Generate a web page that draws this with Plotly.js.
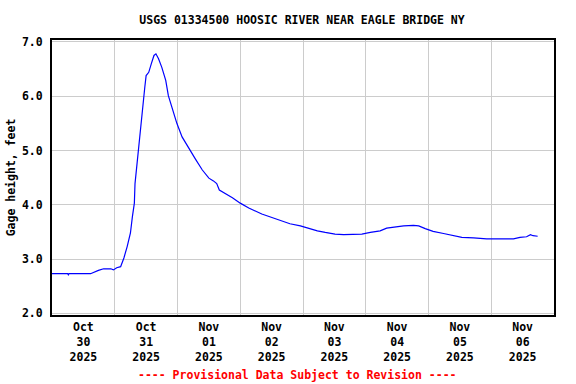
<!DOCTYPE html>
<html>
<head>
<meta charset="utf-8">
<script src="https://cdn.plot.ly/plotly-3.0.1.min.js"></script>
<style>html,body{margin:0;padding:0;background:#fff;}#chart{width:576px;height:384px;}</style>
</head>
<body>
<div id="chart"></div>
<script>
// Gage height readings (time, feet)
const times = [
  "2025-10-30 00:00","2025-10-30 06:00","2025-10-30 06:15","2025-10-30 06:30","2025-10-30 14:45",
  "2025-10-30 16:00","2025-10-30 17:45","2025-10-30 19:45","2025-10-30 22:30","2025-10-30 23:30",
  "2025-10-31 00:45","2025-10-31 02:15","2025-10-31 03:30","2025-10-31 04:45","2025-10-31 06:00",
  "2025-10-31 06:45","2025-10-31 07:30","2025-10-31 07:45","2025-10-31 08:15","2025-10-31 08:45",
  "2025-10-31 09:30","2025-10-31 10:00","2025-10-31 10:45","2025-10-31 11:30","2025-10-31 12:00",
  "2025-10-31 13:00","2025-10-31 14:00","2025-10-31 15:00","2025-10-31 15:45","2025-10-31 16:45",
  "2025-10-31 18:00","2025-10-31 19:30","2025-10-31 20:30","2025-10-31 22:00","2025-10-31 23:45",
  "2025-11-01 01:45","2025-11-01 04:15","2025-11-01 06:45","2025-11-01 09:30","2025-11-01 12:00",
  "2025-11-01 13:45","2025-11-01 15:00","2025-11-01 16:00","2025-11-01 18:15","2025-11-01 21:00",
  "2025-11-02 00:00","2025-11-02 03:15","2025-11-02 08:15","2025-11-02 13:30","2025-11-02 16:30",
  "2025-11-02 19:00","2025-11-02 23:00","2025-11-03 01:30","2025-11-03 05:30","2025-11-03 08:30",
  "2025-11-03 12:15","2025-11-03 15:30","2025-11-03 19:15","2025-11-03 22:30","2025-11-04 01:45",
  "2025-11-04 05:30","2025-11-04 08:00","2025-11-04 10:30","2025-11-04 14:30","2025-11-04 18:15",
  "2025-11-04 20:15","2025-11-04 22:45","2025-11-05 01:45","2025-11-05 05:45","2025-11-05 09:30",
  "2025-11-05 12:45","2025-11-05 17:15","2025-11-05 22:15","2025-11-06 03:30","2025-11-06 08:30",
  "2025-11-06 11:00","2025-11-06 13:30","2025-11-06 15:00","2025-11-06 16:00","2025-11-06 17:45"
];
const gageHeight = [
  2.73,2.73,2.71,2.73,2.73,
  2.76,2.79,2.82,2.82,2.80,
  2.84,2.86,3.02,3.23,3.48,
  3.78,4.03,4.39,4.64,4.85,
  5.19,5.56,5.92,6.17,6.38,
  6.44,6.60,6.75,6.78,6.69,
  6.53,6.29,6.01,5.77,5.50,
  5.25,5.04,4.85,4.64,4.49,
  4.44,4.39,4.27,4.21,4.13,
  4.03,3.94,3.83,3.74,3.70,
  3.65,3.61,3.57,3.52,3.49,
  3.46,3.45,3.46,3.46,3.49,
  3.52,3.57,3.59,3.61,3.62,
  3.61,3.56,3.51,3.47,3.44,
  3.40,3.39,3.37,3.37,3.37,
  3.40,3.41,3.45,3.43,3.42
];
const chartTitle = "USGS 01334500 HOOSIC RIVER NEAR EAGLE BRIDGE NY";
const yLabel = "Gage height, feet";
const footer = "---- Provisional Data Subject to Revision ----";
const xStart = "2025-10-30 00:00";
const xEnd = "2025-11-07 00:00";

const F = "DejaVu Sans Mono, monospace";
const font = {family: F, size: 11.5, color: "#000", weight: "bold"};

Plotly.newPlot("chart", [{
  x: times, y: gageHeight, type: "scatter", mode: "lines",
  line: {color: "#0000FF", width: 1.2}, hoverinfo: "skip"
}], {
  width: 576, height: 384,
  margin: {l: 52, r: 22, t: 40, b: 69},
  paper_bgcolor: "#fff", plot_bgcolor: "#fff",
  showlegend: false,
  font: font,
  title: {text: chartTitle, font: font, x: 0.498, xanchor: "center", xref: "paper",
          y: 1 - 20/384, yref: "container", yanchor: "middle"},
  xaxis: {
    type: "date", range: [xStart, xEnd], tick0: xStart, dtick: 86400000,
    tickformat: "%b<br>%d<br>%Y", ticklabelmode: "period",
    showgrid: true, gridcolor: "#CCCCCC", gridwidth: 1,
    showline: true, linecolor: "#000", linewidth: 2, mirror: true,
    ticks: "", zeroline: false, tickfont: font, fixedrange: true
  },
  yaxis: {
    range: [1.969, 7.035], tick0: 2, dtick: 1, tickformat: ".1f",
    showgrid: true, gridcolor: "#CCCCCC", gridwidth: 1,
    showline: true, linecolor: "#000", linewidth: 2, mirror: true,
    ticks: "", zeroline: false, tickfont: font, automargin: false,
    ticklabelstandoff: 5,
    title: {text: yLabel, font: font, standoff: 4}
  },
  annotations: [{
    text: footer, xref: "paper", yref: "paper", x: 0.49, y: -(375-315)/275,
    yanchor: "middle", xanchor: "center", showarrow: false,
    font: {family: F, size: 11.5, color: "#FF0000", weight: "bold"}
  }]
}, {displayModeBar: false, staticPlot: true});
</script>
</body>
</html>
